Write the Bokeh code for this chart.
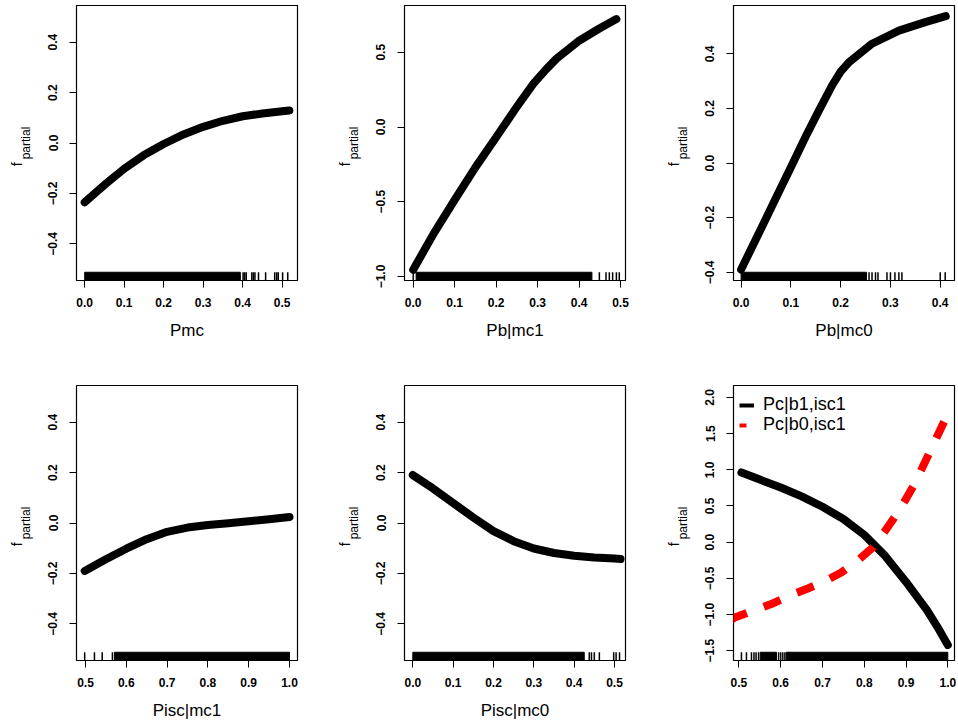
import numpy as np
from bokeh.plotting import figure
from bokeh.models import Range1d, FixedTicker, CustomJSTickFormatter, LinearAxis, Legend, LegendItem
from bokeh.layouts import column, row
from bokeh.embed import file_html
from bokeh.resources import INLINE

# --- curves ---
pmc_x = [0.0, 0.05, 0.1, 0.15, 0.2, 0.25, 0.3, 0.35, 0.4, 0.45, 0.5, 0.518]
pmc_y = [-0.235, -0.166, -0.102, -0.048, -0.004, 0.034, 0.064, 0.088, 0.106, 0.117, 0.126, 0.129]

pbmc1_x = [0.0, 0.05, 0.1, 0.15, 0.2, 0.25, 0.29, 0.32, 0.345, 0.401, 0.449, 0.49]
pbmc1_y = [-0.955, -0.71, -0.487, -0.27, -0.068, 0.135, 0.29, 0.384, 0.456, 0.579, 0.659, 0.722]

pbmc0_x = [0.0, 0.025, 0.05, 0.075, 0.1, 0.13, 0.157, 0.183, 0.2, 0.217, 0.263, 0.317, 0.37, 0.411]
pbmc0_y = [-0.39, -0.296, -0.203, -0.109, -0.015, 0.098, 0.195, 0.285, 0.335, 0.37, 0.437, 0.485, 0.516, 0.538]

piscmc1_x = [0.498, 0.55, 0.6, 0.65, 0.7, 0.75, 0.8, 0.85, 0.9, 0.95, 1.0]
piscmc1_y = [-0.19, -0.144, -0.102, -0.064, -0.035, -0.018, -0.008, -0.001, 0.007, 0.015, 0.024]

piscmc0_x = [0.0, 0.05, 0.1, 0.15, 0.2, 0.25, 0.3, 0.35, 0.4, 0.45, 0.5, 0.515]
piscmc0_y = [0.19, 0.137, 0.079, 0.022, -0.032, -0.072, -0.101, -0.119, -0.13, -0.137, -0.141, -0.143]

pcb1_x = [0.506, 0.55, 0.6, 0.65, 0.7, 0.75, 0.8, 0.85, 0.9, 0.95, 0.975, 1.0]
pcb1_y = [0.963, 0.865, 0.755, 0.632, 0.49, 0.32, 0.1, -0.19, -0.55, -0.94, -1.17, -1.42]

pcb0_x = [0.48, 0.49, 0.5335, 0.5775, 0.621, 0.665, 0.705, 0.745, 0.785, 0.821, 0.848, 0.872, 0.897, 0.919, 0.939, 0.958, 0.98, 1.0]
pcb0_y = [-1.08, -1.04, -0.946, -0.855, -0.74, -0.64, -0.542, -0.42, -0.25, -0.07, 0.14, 0.34, 0.57, 0.79, 1.03, 1.26, 1.53, 1.77]

# --- rugs: solid bands (start, end) and single ticks ---
pmc_band = [(0.0, 0.394)]
pmc_ticks = [0.401, 0.405, 0.409, 0.423, 0.427, 0.431, 0.440, 0.458, 0.481, 0.486, 0.490, 0.501, 0.514]
pbmc1_band = [(0.007, 0.431)]
pbmc1_ticks = [0.0, 0.449, 0.465, 0.473, 0.481, 0.49, 0.497]
pbmc0_band = [(0.0, 0.252)]
pbmc0_ticks = [0.257, 0.263, 0.27, 0.275, 0.293, 0.3, 0.309, 0.317, 0.323, 0.4, 0.41]
piscmc1_band = [(0.571, 1.0)]
piscmc1_ticks = [0.498, 0.522, 0.541, 0.566]
piscmc0_band = [(0.0, 0.425)]
piscmc0_ticks = [0.4375, 0.443, 0.45, 0.4625, 0.498, 0.504, 0.5125]
pc_band = [(0.551, 0.59), (0.613, 1.0)]
pc_ticks = [0.506, 0.518, 0.53, 0.536, 0.541, 0.547, 0.595, 0.60, 0.605, 0.61]

legend_labels = ["Pc|b1,isc1", "Pc|b0,isc1"]

tick_fmt = "return tick.toFixed(1).replace('-', '\\u2212')"
FONT = "Liberation Sans"
NBSP = "\u00a0"


def panel(xr, yr, xticks, yticks, xlabel, left, right, top, bottom):
    p = figure(x_range=Range1d(*xr), y_range=Range1d(*yr),
               frame_width=221, frame_height=275,
               min_border_left=left, min_border_right=right,
               min_border_top=top, min_border_bottom=bottom,
               output_backend="svg", toolbar_location=None, tools="")
    p.grid.grid_line_color = None
    p.outline_line_color = "black"
    p.outline_line_width = 1.2
    p.axis.axis_line_color = None
    p.axis.major_tick_in = 0
    p.axis.major_tick_out = 7
    p.axis.major_tick_line_color = "black"
    p.axis.minor_tick_line_color = None
    p.axis.major_label_text_font = FONT
    p.axis.major_label_text_font_style = "bold"
    p.axis.major_label_text_font_size = "12px"
    p.axis.major_label_text_color = "black"
    p.axis.axis_label_text_font = FONT
    p.axis.axis_label_text_font_style = "normal"
    p.axis.axis_label_text_color = "black"
    p.axis.formatter = CustomJSTickFormatter(code=tick_fmt)
    p.xaxis.ticker = FixedTicker(ticks=xticks)
    p.yaxis.ticker = FixedTicker(ticks=yticks)
    p.xaxis.major_label_standoff = 10
    p.yaxis.major_label_standoff = 12
    p.yaxis.major_label_orientation = "vertical"
    p.xaxis.axis_label = xlabel
    p.xaxis.axis_label_text_font_size = "17px"
    p.xaxis.axis_label_standoff = 11
    # y label f_partial: subscript on the tick axis, the "f" on an outer bare axis
    p.yaxis.axis_label = "partial"
    p.yaxis.axis_label_text_font_size = "12px"
    p.yaxis.axis_label_standoff = 13
    fax = LinearAxis(ticker=FixedTicker(ticks=[]), axis_label="f" + NBSP * 11,
                     axis_line_color=None, major_tick_line_color=None,
                     minor_tick_line_color=None, major_tick_out=0, major_tick_in=0,
                     major_label_standoff=0, axis_label_standoff=-9,
                     axis_label_text_font=FONT, axis_label_text_font_size="14px",
                     axis_label_text_font_style="normal", axis_label_text_color="black")
    p.add_layout(fax, "left")
    return p


def rug(p, yr, bands, ticks):
    y0 = yr[0]
    h = 0.03 * (yr[1] - yr[0])
    p.quad(left=[b[0] for b in bands], right=[b[1] for b in bands],
           bottom=[y0] * len(bands), top=[y0 + h] * len(bands),
           fill_color="black", line_color="black", line_width=1)
    p.segment(x0=ticks, y0=[y0] * len(ticks), x1=ticks, y1=[y0 + h] * len(ticks),
              line_color="black", line_width=1.5)


yr_small = (-0.545, 0.545)
t_small = [-0.4, -0.2, 0.0, 0.2, 0.4]

# top row
yr1 = yr_small
p1 = panel((-0.0207, 0.5387), yr1, [0, 0.1, 0.2, 0.3, 0.4, 0.5], t_small, "Pmc", 69, 32, 0, 100)
p1.line(pmc_x, pmc_y, line_width=8, line_color="black", line_cap="round", line_join="round")
rug(p1, yr1, pmc_band, pmc_ticks)

yr2 = (-1.027, 0.813)
p2 = panel((-0.021, 0.512), yr2, [0, 0.1, 0.2, 0.3, 0.4, 0.5], [-1.0, -0.5, 0.0, 0.5], "Pb|mc1", 75, 24, 0, 100)
p2.line(pbmc1_x, pbmc1_y, line_width=8, line_color="black", line_cap="round", line_join="round")
rug(p2, yr2, pbmc1_band, pbmc1_ticks)

yr3 = (-0.430, 0.577)
p3 = panel((-0.0153, 0.4287), yr3, [0, 0.1, 0.2, 0.3, 0.4], t_small, "Pb|mc0", 84, 2, 0, 100)
p3.line(pbmc0_x, pbmc0_y, line_width=8, line_color="black", line_cap="round", line_join="round")
rug(p3, yr3, pbmc0_band, pbmc0_ticks)

# bottom row
yr4 = yr_small
p4 = panel((0.478, 1.0196), yr4, [0.5, 0.6, 0.7, 0.8, 0.9, 1.0], t_small, "Pisc|mc1", 69, 32, 5, 55)
p4.line(piscmc1_x, piscmc1_y, line_width=8, line_color="black", line_cap="round", line_join="round")
rug(p4, yr4, piscmc1_band, piscmc1_ticks)

yr5 = yr_small
p5 = panel((-0.0206, 0.5273), yr5, [0, 0.1, 0.2, 0.3, 0.4, 0.5], t_small, "Pisc|mc0", 75, 24, 5, 55)
p5.line(piscmc0_x, piscmc0_y, line_width=8, line_color="black", line_cap="round", line_join="round")
rug(p5, yr5, piscmc0_band, piscmc0_ticks)

yr6 = (-1.635, 2.165)
p6 = panel((0.487, 1.016), yr6, [0.5, 0.6, 0.7, 0.8, 0.9, 1.0],
           [-1.5, -1.0, -0.5, 0.0, 0.5, 1.0, 1.5, 2.0], "", 84, 2, 5, 55)
p6.line(pcb1_x, pcb1_y, line_width=8, line_color="black", line_cap="round", line_join="round")
p6.line(pcb0_x, pcb0_y, line_width=8, line_color="red", line_dash="18 18", line_join="round")
rug(p6, yr6, pc_band, pc_ticks)

# legend samples are thinner than the curves (renderers holding no visible point)
k1 = p6.line(x=np.array([np.nan]), y=np.array([np.nan]), line_width=4, line_color="black")
k2 = p6.line(x=np.array([np.nan]), y=np.array([np.nan]), line_width=4, line_color="red", line_dash="7 8")
for lab, rend, loc in [(legend_labels[0], k1, (6, 245)), (legend_labels[1], k2, (6, 225))]:
    leg = Legend(items=[LegendItem(label=lab, renderers=[rend])],
                 location=loc, margin=0, padding=0, spacing=0,
                 glyph_width=15, glyph_height=18, label_height=18, label_standoff=9,
                 label_text_font=FONT, label_text_font_size="18px", label_text_color="black",
                 border_line_color=None, background_fill_alpha=0)
    p6.add_layout(leg)

layout = column(row(p1, p2, p3), row(p4, p5, p6), margin=(5, 0, 0, 5))

open("out.html", "w").write(file_html(layout, INLINE))
